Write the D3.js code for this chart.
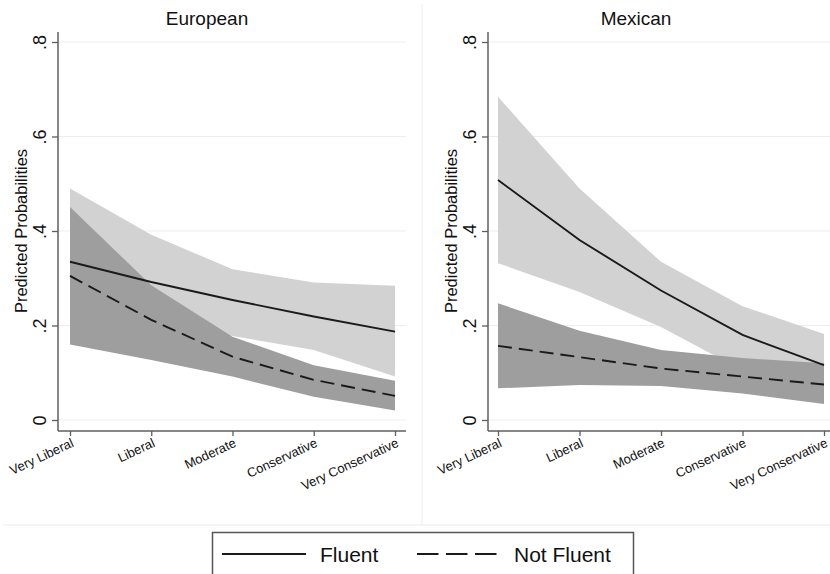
<!DOCTYPE html>
<html>
<head>
<meta charset="utf-8">
<script src="https://cdn.jsdelivr.net/npm/d3@7"></script>
<style>
  html, body { margin: 0; padding: 0; background: #fff; }
  svg { display: block; font-family: "Liberation Sans", Arial, Helvetica, sans-serif; }
</style>
</head>
<body>
<svg id="chart" width="830" height="574"></svg>
<script>
const categories = ["Very Liberal", "Liberal", "Moderate", "Conservative", "Very Conservative"];
const yTicks = [0, 0.2, 0.4, 0.6, 0.8];
const yTickLabels = ["0", ".2", ".4", ".6", ".8"];
const panelTitles = ["European", "Mexican"];
const seriesNames = ["Fluent", "Not Fluent"];

// European
const eurFluent      = [0.335, 0.292, 0.254, 0.219, 0.187];
const eurFluentLo    = [0.200, 0.210, 0.178, 0.148, 0.092];
const eurFluentHi    = [0.490, 0.392, 0.319, 0.291, 0.284];
const eurNotFluent   = [0.305, 0.212, 0.134, 0.085, 0.051];
const eurNotFluentLo = [0.160, 0.127, 0.092, 0.049, 0.020];
const eurNotFluentHi = [0.451, 0.285, 0.176, 0.116, 0.083];

// Mexican
const mexFluent      = [0.508, 0.381, 0.274, 0.180, 0.116];
const mexFluentLo    = [0.332, 0.271, 0.197, 0.105, 0.050];
const mexFluentHi    = [0.684, 0.490, 0.335, 0.241, 0.182];
const mexNotFluent   = [0.157, 0.133, 0.109, 0.092, 0.075];
const mexNotFluentLo = [0.067, 0.074, 0.072, 0.056, 0.034];
const mexNotFluentHi = [0.247, 0.189, 0.148, 0.131, 0.120];

const panels = [
  { title: panelTitles[0], axisX: 58, right: 406, x0: 70, x1: 395, titleX: 207,
    fl: eurFluent, flLo: eurFluentLo, flHi: eurFluentHi,
    nf: eurNotFluent, nfLo: eurNotFluentLo, nfHi: eurNotFluentHi },
  { title: panelTitles[1], axisX: 488, right: 830, x0: 498, x1: 824, titleX: 636,
    fl: mexFluent, flLo: mexFluentLo, flHi: mexFluentHi,
    nf: mexNotFluent, nfLo: mexNotFluentLo, nfHi: mexNotFluentHi }
];

const svg = d3.select("#chart");
const y = d3.scaleLinear().domain([0, 0.8]).range([420, 42]);
const axisY = 431;
const LIGHT = "#d2d2d2", DARK = "#9e9e9e", AXIS = "#5e5e5e", LINE = "#1a1a1a";

// panel separators
svg.append("line").attr("x1", 422).attr("x2", 422).attr("y1", 4).attr("y2", 525)
  .attr("stroke", "#ececec").attr("stroke-width", 1);
svg.append("line").attr("x1", 3).attr("x2", 830).attr("y1", 525).attr("y2", 525)
  .attr("stroke", "#ececec").attr("stroke-width", 1);

panels.forEach(p => {
  const g = svg.append("g");
  const x = d3.scalePoint().domain(categories).range([p.x0, p.x1]);

  // gridlines
  g.selectAll(".grid").data(yTicks).enter().append("line")
    .attr("x1", p.axisX).attr("x2", p.right)
    .attr("y1", d => y(d)).attr("y2", d => y(d))
    .attr("stroke", "#ededed").attr("stroke-width", 1);

  const band = (lo, hi) => categories.map((c, i) => ({ c, lo: lo[i], hi: hi[i] }));
  const area = d3.area().x(d => x(d.c)).y0(d => y(d.lo)).y1(d => y(d.hi));
  const line = d3.line().x(d => x(d.c)).y(d => y(d.v));
  const pts = vals => categories.map((c, i) => ({ c, v: vals[i] }));

  g.append("path").datum(band(p.flLo, p.flHi)).attr("d", area).attr("fill", LIGHT);
  g.append("path").datum(band(p.nfLo, p.nfHi)).attr("d", area).attr("fill", DARK);

  g.append("path").datum(pts(p.fl)).attr("d", line)
    .attr("fill", "none").attr("stroke", LINE).attr("stroke-width", 1.9);
  g.append("path").datum(pts(p.nf)).attr("d", line)
    .attr("fill", "none").attr("stroke", LINE).attr("stroke-width", 1.9)
    .attr("stroke-dasharray", "14,7");

  // y axis
  const ya = g.append("g").attr("transform", `translate(${p.axisX},0)`)
    .call(d3.axisLeft(y).tickValues(yTicks).tickSize(6).tickSizeOuter(0)
      .tickFormat((d, i) => yTickLabels[i]));
  ya.select(".domain").attr("d", `M0,${axisY}V32`);
  ya.selectAll("line").attr("stroke", AXIS).attr("stroke-width", 1.3);
  ya.select(".domain").attr("stroke", AXIS).attr("stroke-width", 1.5);
  ya.selectAll("text")
    .style("font-size", "18px").attr("fill", "#111")
    .attr("x", 0).attr("dy", 0)
    .attr("text-anchor", "middle")
    .attr("transform", "translate(-12,0) rotate(-90)");

  // x axis
  const xa = g.append("g").attr("transform", `translate(0,${axisY})`)
    .call(d3.axisBottom(x).tickSize(5).tickSizeOuter(0));
  xa.select(".domain").attr("d", `M${p.axisX},0H${p.right}`)
    .attr("stroke", AXIS).attr("stroke-width", 1.5);
  xa.selectAll("line").attr("stroke", AXIS).attr("stroke-width", 1.3);
  xa.selectAll("text")
    .style("font-size", "13px").attr("fill", "#111")
    .attr("y", 0).attr("dy", 0)
    .attr("text-anchor", "end")
    .attr("transform", "translate(4,15) rotate(-25)");

  // y label
  g.append("text")
    .attr("transform", `translate(${p.axisX - 31},231) rotate(-90)`)
    .attr("text-anchor", "middle").style("font-size", "16.5px").attr("fill", "#111")
    .text("Predicted Probabilities");

  // title
  g.append("text").attr("x", p.titleX).attr("y", 25)
    .attr("text-anchor", "middle").style("font-size", "19px").attr("fill", "#111")
    .text(p.title);
});

// legend
const lg = svg.append("g");
lg.append("rect").attr("x", 212.5).attr("y", 532.5).attr("width", 421).attr("height", 50)
  .attr("fill", "#fff").attr("stroke", "#555").attr("stroke-width", 1.5);
const legendItems = [
  { name: seriesNames[0], x1: 222, x2: 306, tx: 320, dash: null },
  { name: seriesNames[1], x1: 417, x2: 497, tx: 514, dash: "21.5,7.5" }
];
legendItems.forEach(it => {
  lg.append("line").attr("x1", it.x1).attr("x2", it.x2).attr("y1", 554).attr("y2", 554)
    .attr("stroke", LINE).attr("stroke-width", 1.9)
    .attr("stroke-dasharray", it.dash);
  lg.append("text").attr("x", it.tx).attr("y", 562).style("font-size", "21px").attr("fill", "#111")
    .text(it.name);
});
</script>
</body>
</html>
